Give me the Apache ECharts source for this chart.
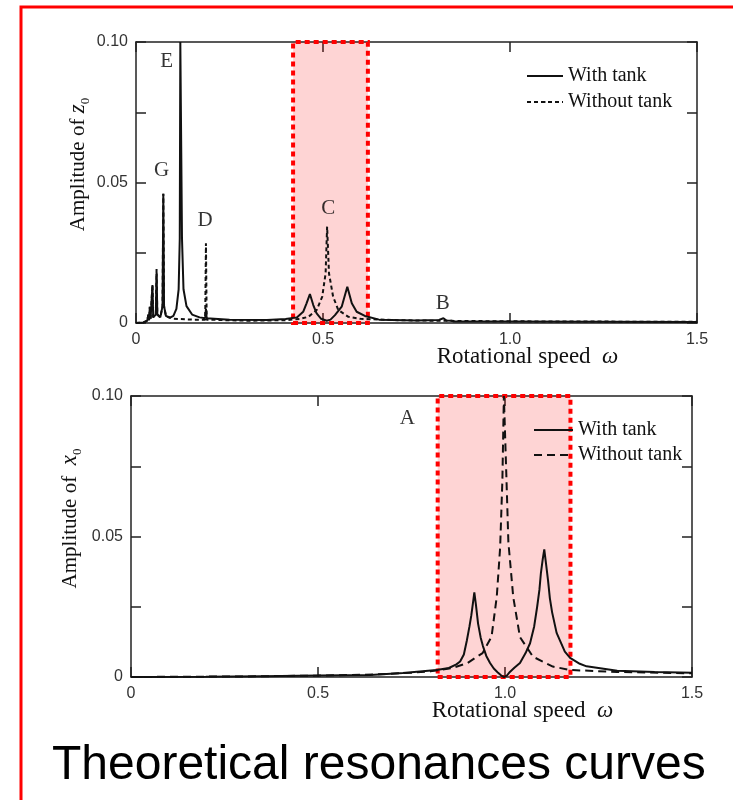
<!DOCTYPE html>
<html>
<head>
<meta charset="utf-8">
<script src="https://cdn.jsdelivr.net/npm/echarts@6/dist/echarts.min.js"></script>
<style>
  html, body { margin: 0; padding: 0; background: #fff; }
  #main { width: 733px; height: 800px; }
</style>
</head>
<body>
<div id="main"></div>
<script>
// top chart: amplitude of z0 vs rotational speed
var topWithTank = [
  [0, 0], [0.02, 0.0002], [0.03, 0.0008], [0.033, 0.003], [0.035, 0.001], [0.037, 0.0058],
  [0.039, 0.0015], [0.044, 0.0135], [0.046, 0.002], [0.053, 0.003], [0.055, 0.0175], [0.057, 0.003],
  [0.065, 0.002], [0.071, 0.006], [0.073, 0.046], [0.075, 0.006], [0.08, 0.0025], [0.09, 0.0018],
  [0.1, 0.0025], [0.108, 0.005], [0.114, 0.012], [0.117, 0.03], [0.1185, 0.1], [0.1205, 0.1],
  [0.123, 0.03], [0.127, 0.012], [0.135, 0.006], [0.15, 0.003], [0.17, 0.002], [0.185, 0.0017],
  [0.187, 0.005], [0.189, 0.0017], [0.25, 0.0012], [0.35, 0.0011], [0.4, 0.0014], [0.43, 0.002],
  [0.447, 0.004], [0.456, 0.007], [0.465, 0.0103], [0.474, 0.0064], [0.483, 0.0034], [0.495, 0.0015],
  [0.51, 0.0008], [0.52, 0.0012], [0.532, 0.0028], [0.55, 0.0058], [0.565, 0.0129], [0.577, 0.007],
  [0.59, 0.004], [0.612, 0.0025], [0.65, 0.0012], [0.75, 0.0009], [0.81, 0.0011], [0.822, 0.0017],
  [0.83, 0.0009], [0.844, 0.0008], [0.85, 0.0005], [1.0, 0.0005], [1.5, 0.0004]
];
var topWithoutTank = [
  [0, 0], [0.02, 0.0002], [0.03, 0.0008], [0.033, 0.003], [0.035, 0.001], [0.037, 0.0058],
  [0.039, 0.0015], [0.044, 0.0135], [0.046, 0.002], [0.053, 0.003], [0.055, 0.0192], [0.057, 0.003],
  [0.065, 0.002], [0.071, 0.006], [0.073, 0.046], [0.075, 0.006], [0.08, 0.0025], [0.1, 0.0015],
  [0.15, 0.0012], [0.185, 0.0012], [0.187, 0.0284], [0.189, 0.0012], [0.3, 0.0008], [0.4, 0.001],
  [0.44, 0.0015], [0.461, 0.0022], [0.483, 0.0046], [0.498, 0.0094], [0.507, 0.0177], [0.511, 0.0343],
  [0.516, 0.0177], [0.527, 0.0094], [0.541, 0.0046], [0.568, 0.0022], [0.6, 0.0015], [0.7, 0.001],
  [0.8, 0.0008], [1.0, 0.0006], [1.5, 0.0004]
];
var topLabels = [['E', 0.082, 0.0932], ['G', 0.0687, 0.0544], ['D', 0.1845, 0.0364], ['C', 0.514, 0.0406], ['B', 0.82, 0.007]];
var topBox = [0.42, 0.62];

// bottom chart: amplitude of x0 vs rotational speed
var botWithTank = [
  [0, 0], [0.2, 0.0001], [0.35, 0.0003], [0.5, 0.0005], [0.64, 0.0007], [0.727, 0.0014], [0.817, 0.0025],
  [0.85, 0.0032], [0.87, 0.0045], [0.88, 0.0055], [0.89, 0.008], [0.898, 0.013], [0.905, 0.018],
  [0.91, 0.022], [0.915, 0.027], [0.918, 0.0301], [0.922, 0.026], [0.928, 0.019], [0.935, 0.014],
  [0.941, 0.011], [0.95, 0.0075], [0.96, 0.005], [0.97, 0.003], [0.98, 0.0017], [0.99, 0.0005],
  [0.997, 0], [1.005, 0.0005], [1.013, 0.0018], [1.025, 0.0033], [1.04, 0.005], [1.055, 0.0085],
  [1.067, 0.012], [1.078, 0.018], [1.086, 0.025], [1.092, 0.031], [1.096, 0.037], [1.101, 0.042],
  [1.105, 0.0454], [1.11, 0.04], [1.115, 0.0345], [1.12, 0.028], [1.126, 0.023], [1.138, 0.0157],
  [1.16, 0.009], [1.174, 0.0068], [1.2, 0.0047], [1.218, 0.0038], [1.3, 0.0022], [1.4, 0.0018], [1.5, 0.0015]
];
var botWithoutTank = [
  [0, 0], [0.3, 0.0002], [0.5, 0.0005], [0.65, 0.0009], [0.75, 0.0015], [0.8, 0.002], [0.86, 0.0032],
  [0.9, 0.005], [0.94, 0.0085], [0.964, 0.0143], [0.978, 0.0286], [0.987, 0.046], [0.993, 0.07],
  [0.997, 0.1], [1.0, 0.1], [1.004, 0.07], [1.009, 0.048], [1.022, 0.0285], [1.04, 0.0142],
  [1.075, 0.0072], [1.128, 0.0037], [1.174, 0.0025], [1.3, 0.0018], [1.5, 0.0013]
];
var botLabels = [['A', 0.739, 0.092]];
var botBox = [0.82, 1.175];

var xTicks = [0, 0.5, 1.0, 1.5];

var serif = 'Liberation Serif';
var sans = 'Liberation Sans';
var ink = '#111';

function xLabel(v) { return v === 0 ? '0' : v.toFixed(1); }
function yLabel(v) {
  var k = Math.round(v * 1000);
  if (k === 0) return '0';
  if (k % 50 !== 0) return '';
  return (k / 1000).toFixed(2);
}

var nameRich = {
  it: { fontFamily: serif, fontStyle: 'italic', fontSize: 23, lineHeight: 28, color: ink },
  sub: { fontFamily: serif, fontSize: 13, lineHeight: 12, verticalAlign: 'bottom', color: ink }
};

function xAxisPair(grid) {
  var base = {
    type: 'value', gridIndex: grid, min: xTicks[0], max: xTicks[xTicks.length - 1], interval: 0.5,
    axisLine: { onZero: false, lineStyle: { color: '#222', width: 1.5 } },
    axisTick: { inside: true, length: 10, lineStyle: { color: '#222', width: 1.5 } },
    splitLine: { show: false }
  };
  var bottom = Object.assign({}, base, {
    position: 'bottom',
    axisLabel: { formatter: xLabel, fontFamily: sans, fontSize: 16, color: '#333', margin: 9 },
    name: 'Rotational speed  {it|ω}', nameLocation: 'middle', nameGap: 20, nameMoveOverlap: false,
    nameTextStyle: { fontFamily: serif, fontSize: 23, color: ink, lineHeight: 28, padding: [0, 0, 0, 222], rich: nameRich }
  });
  var top = Object.assign({}, base, { position: 'top', axisLabel: { show: false } });
  return [bottom, top];
}

function yAxisPair(grid, name, gap) {
  var base = {
    type: 'value', gridIndex: grid, min: 0, max: 0.1, interval: 0.025,
    axisLine: { onZero: false, lineStyle: { color: '#222', width: 1.5 } },
    axisTick: { inside: true, length: 10, lineStyle: { color: '#222', width: 1.5 } },
    splitLine: { show: false }
  };
  var left = Object.assign({}, base, {
    position: 'left',
    axisLabel: { formatter: yLabel, fontFamily: sans, fontSize: 16, color: '#333', margin: 8 },
    name: name, nameLocation: 'middle', nameRotate: 90, nameGap: gap, nameMoveOverlap: false,
    nameTextStyle: { fontFamily: serif, fontSize: 21, color: ink, lineHeight: 28, padding: [0, 0, 0, 36], rich: nameRich }
  });
  var right = Object.assign({}, base, { position: 'right', axisLabel: { show: false } });
  return [left, right];
}

function boxArea(box) {
  return {
    silent: true,
    label: { show: false },
    itemStyle: { color: 'rgba(248,0,0,0.17)', borderColor: '#ff0000', borderWidth: 4, borderType: [5, 4] },
    data: [[{ xAxis: box[0], yAxis: 0 }, { xAxis: box[1], yAxis: 0.1 }]]
  };
}

function labelSeries(list, xi, yi) {
  return {
    type: 'scatter', xAxisIndex: xi, yAxisIndex: yi, silent: true, symbolSize: 1,
    itemStyle: { color: 'transparent' },
    label: { show: true, position: 'inside', formatter: '{b}', fontFamily: serif, fontSize: 21, color: '#000' },
    data: list.map(function (d) { return { name: d[0], value: [d[1], d[2]] }; }),
    z: 5
  };
}

var xa = xAxisPair(0).concat(xAxisPair(1));
var ya = yAxisPair(0, 'Amplitude of {it|z}{sub|0}', 44).concat(yAxisPair(1, 'Amplitude of  {it|x}{sub|0}', 47));

// legend icon: line only (itemHeight tiny so the marker hides under the line)
var legendText = { fontFamily: serif, fontSize: 20, color: ink, lineHeight: 20 };

var chart = echarts.init(document.getElementById('main'));
chart.setOption({
  animation: false,
  backgroundColor: '#fff',
  title: {
    text: 'Theoretical resonances curves', left: 52, top: 742, padding: 0,
    textStyle: { fontFamily: sans, fontSize: 48, fontWeight: 'normal', color: '#000' }
  },
  graphic: [{
    type: 'rect', silent: true, z: 100,
    shape: { x: 21, y: 7, width: 760, height: 840 },
    style: { fill: 'none', stroke: '#ff0000', lineWidth: 3 }
  }],
  legend: [{
    data: ['With tank', 'Without tank'], orient: 'vertical', left: 521, top: 61,
    itemWidth: 36, itemHeight: 2, itemGap: 6, selectedMode: false,
    textStyle: legendText
  }, {
    data: ['With tank ', 'Without tank '], orient: 'vertical', left: 528, top: 415,
    itemWidth: 39, itemHeight: 2, itemGap: 5, selectedMode: false,
    formatter: function (n) { return n.trim(); },
    textStyle: legendText
  }],
  grid: [
    { left: 136, top: 42, width: 561, height: 281 },
    { left: 131, top: 396, width: 561, height: 281 }
  ],
  xAxis: xa,
  yAxis: ya,
  series: [
    {
      name: 'Without tank', type: 'line', xAxisIndex: 0, yAxisIndex: 0, symbol: 'none',
      lineStyle: { color: ink, width: 2, type: [4, 3] }, itemStyle: { color: ink },
      data: topWithoutTank
    },
    {
      name: 'With tank', type: 'line', xAxisIndex: 0, yAxisIndex: 0, symbol: 'none',
      lineStyle: { color: ink, width: 2 }, itemStyle: { color: ink },
      data: topWithTank, markArea: boxArea(topBox)
    },
    labelSeries(topLabels, 0, 0),
    {
      name: 'Without tank ', type: 'line', xAxisIndex: 2, yAxisIndex: 2, symbol: 'none',
      lineStyle: { color: ink, width: 2, type: [8, 5] }, itemStyle: { color: ink },
      data: botWithoutTank
    },
    {
      name: 'With tank ', type: 'line', xAxisIndex: 2, yAxisIndex: 2, symbol: 'none',
      lineStyle: { color: ink, width: 2 }, itemStyle: { color: ink },
      data: botWithTank, markArea: boxArea(botBox)
    },
    labelSeries(botLabels, 2, 2)
  ]
});
</script>
</body>
</html>
